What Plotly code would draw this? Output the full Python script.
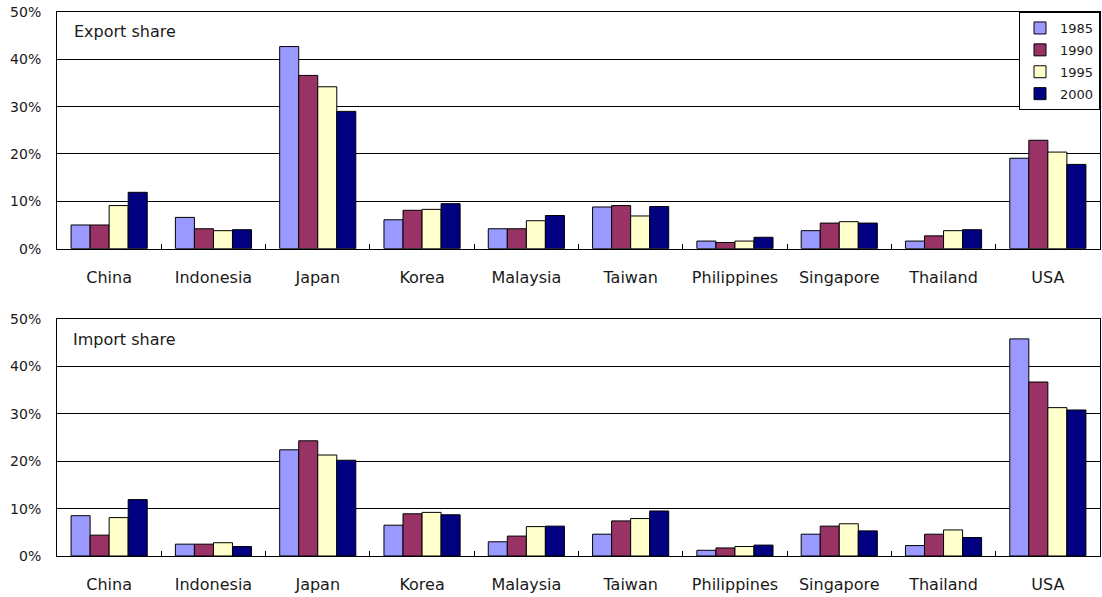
import plotly.graph_objects as go

# Trade shares by partner economy (% of total), four benchmark years
countries = ["China", "Indonesia", "Japan", "Korea", "Malaysia", "Taiwan",
             "Philippines", "Singapore", "Thailand", "USA"]
years = ["1985", "1990", "1995", "2000"]

export_1985 = [5.0, 6.6, 42.7, 6.1, 4.2, 8.8, 1.6, 3.8, 1.6, 19.1]
export_1990 = [5.0, 4.2, 36.6, 8.1, 4.2, 9.1, 1.3, 5.4, 2.7, 22.9]
export_1995 = [9.1, 3.8, 34.2, 8.3, 5.9, 6.9, 1.6, 5.7, 3.8, 20.4]
export_2000 = [11.9, 4.0, 29.0, 9.5, 7.0, 8.9, 2.4, 5.4, 4.0, 17.8]

import_1985 = [8.5, 2.5, 22.4, 6.5, 3.0, 4.6, 1.2, 4.6, 2.2, 45.8]
import_1990 = [4.4, 2.5, 24.3, 8.9, 4.2, 7.4, 1.7, 6.3, 4.6, 36.7]
import_1995 = [8.1, 2.8, 21.3, 9.2, 6.2, 7.9, 2.0, 6.8, 5.5, 31.3]
import_2000 = [11.9, 2.0, 20.2, 8.7, 6.3, 9.5, 2.3, 5.3, 3.9, 30.8]

export_series = [export_1985, export_1990, export_1995, export_2000]
import_series = [import_1985, import_1990, import_1995, import_2000]
colors = ["#9999FF", "#993366", "#FFFFCC", "#000080"]

FONT = "DejaVu Sans"
TEXT = "#1a1a1a"

fig = go.Figure()

for year, vals, col in zip(years, export_series, colors):
    fig.add_trace(go.Bar(
        x=countries, y=vals, name=year, legendgroup=year,
        marker=dict(color=col, line=dict(color="black", width=1)),
        xaxis="x", yaxis="y", showlegend=True,
    ))

for year, vals, col in zip(years, import_series, colors):
    fig.add_trace(go.Bar(
        x=countries, y=vals, name=year, legendgroup=year,
        marker=dict(color=col, line=dict(color="black", width=1)),
        xaxis="x2", yaxis="y2", showlegend=False,
    ))

xaxis_style = dict(
    type="category", showline=True, mirror=True, linecolor="black", linewidth=1,
    ticks="inside", tickson="boundaries", ticklen=5, tickcolor="black",
    showgrid=False, tickfont=dict(family=FONT, size=16, color=TEXT),
    ticklabelstandoff=14,
)
yaxis_style = dict(
    range=[0, 50], dtick=10, ticksuffix="%", showline=True, mirror=True,
    linecolor="black", linewidth=1, showgrid=True, gridcolor="black",
    gridwidth=1, zeroline=False, ticks="",
    tickfont=dict(family=FONT, size=14, color=TEXT), ticklabelstandoff=12,
)

fig.update_layout(
    width=1102, height=597,
    margin=dict(l=57, r=2, t=12, b=41),
    paper_bgcolor="white", plot_bgcolor="white",
    barmode="group", bargap=0.27, bargroupgap=0,
    xaxis=dict(domain=[0, 1], anchor="y", **xaxis_style),
    yaxis=dict(domain=[0.565, 1.0], anchor="x", **yaxis_style),
    xaxis2=dict(domain=[0, 1], anchor="y2", **xaxis_style),
    yaxis2=dict(domain=[0.0, 0.4357], anchor="x2", **yaxis_style),
    legend=dict(
        x=1, y=1, xanchor="right", yanchor="top",
        bgcolor="white", bordercolor="black", borderwidth=1,
        font=dict(family=FONT, size=13, color=TEXT),
        traceorder="grouped", tracegroupgap=2, itemwidth=30,
    ),
    annotations=[
        dict(text="Export share", xref="x domain", yref="y domain",
             x=0.014, y=0.916, xanchor="left", yanchor="middle",
             showarrow=False, font=dict(family=FONT, size=16, color=TEXT)),
        dict(text="Import share", xref="x2 domain", yref="y2 domain",
             x=0.013, y=0.914, xanchor="left", yanchor="middle",
             showarrow=False, font=dict(family=FONT, size=16, color=TEXT)),
    ],
)

fig.write_html("out.html")
